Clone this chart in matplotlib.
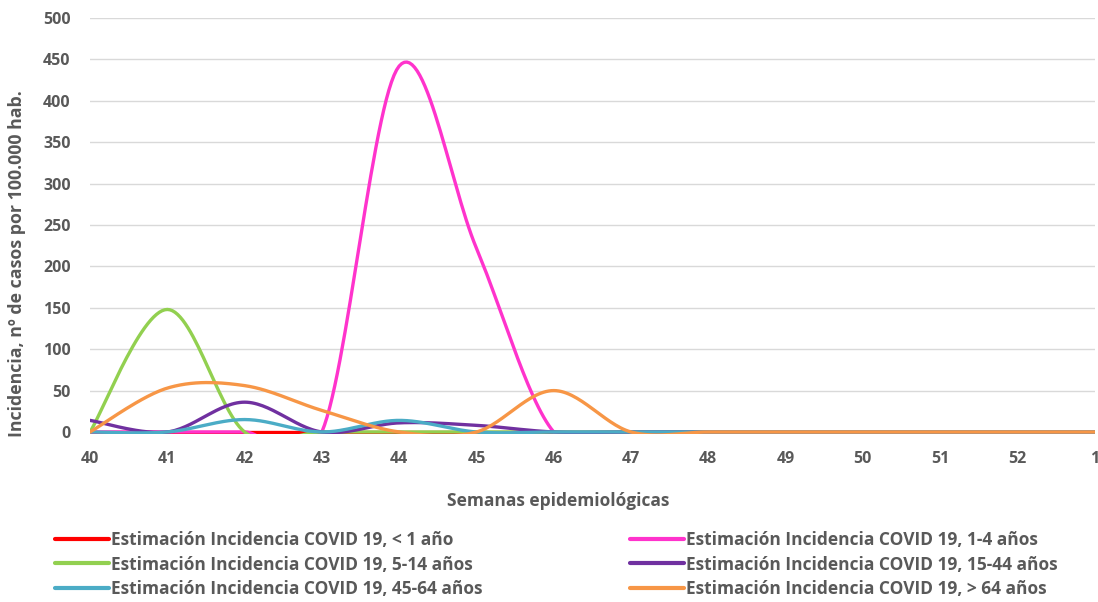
import numpy as np
import matplotlib
matplotlib.use("Agg")
import matplotlib.pyplot as plt

weeks = ["40", "41", "42", "43", "44", "45", "46", "47", "48", "49", "50", "51", "52", "1"]
s_lt1 = [0, 0, 0, 0, 0, 0, 0, 0, 0, 0, 0, 0, 0, 0]
s_1_4 = [0, 0, 0, 0, 442, 222, 0, 0, 0, 0, 0, 0, 0, 0]
s_5_14 = [0, 148, 0, 0, 0, 0, 0, 0, 0, 0, 0, 0, 0, 0]
s_15_44 = [14, 0, 36, 0, 11, 8, 0, 0, 0, 0, 0, 0, 0, 0]
s_45_64 = [0, 0, 15, 0, 14, 0, 0, 0, 0, 0, 0, 0, 0, 0]
s_gt64 = [0, 53, 56, 26, 0, 0, 50, 0, 0, 0, 0, 0, 0, 0]

labels = ["Estimación Incidencia COVID 19, < 1 año",
          "Estimación Incidencia COVID 19, 1-4 años",
          "Estimación Incidencia COVID 19, 5-14 años",
          "Estimación Incidencia COVID 19, 15-44 años",
          "Estimación Incidencia COVID 19, 45-64 años",
          "Estimación Incidencia COVID 19, > 64 años"]
colors = ["#FF0000", "#FF33CC", "#92D050", "#7030A0", "#4BACC6", "#F79646"]
series = [s_lt1, s_1_4, s_5_14, s_15_44, s_45_64, s_gt64]


def smooth(y, n=30):
    y = np.asarray(y, float)
    x = np.arange(len(y), dtype=float)
    P = np.column_stack([x, y])
    out = []
    for i in range(len(P) - 1):
        p0 = P[i - 1] if i > 0 else P[i]
        p1 = P[i]
        p2 = P[i + 1]
        p3 = P[i + 2] if i + 2 < len(P) else P[i + 1]
        c1 = p1 + (p2 - p0) / 6.0
        c2 = p2 - (p3 - p1) / 6.0
        t = np.linspace(0, 1, n, endpoint=(i == len(P) - 2))[:, None]
        b = (1 - t) ** 3 * p1 + 3 * (1 - t) ** 2 * t * c1 + 3 * (1 - t) * t ** 2 * c2 + t ** 3 * p2
        out.append(b)
    out = np.vstack(out)
    return out[:, 0], out[:, 1]


plt.rcParams['font.family'] = ['Open Sans', 'DejaVu Sans']
fig = plt.figure(figsize=(10.98, 6.02), dpi=100)
ax = fig.add_axes([0.082, 0.279, 0.915, 0.691])

handles = []
for s, c, lab in zip(series, colors, labels):
    xs, ys = smooth(s)
    h, = ax.plot(xs, ys, color=c, lw=2.4, label=lab, solid_capstyle='round')
    handles.append(h)

ax.set_xlim(0, len(weeks) - 1)
ax.set_ylim(-2.5, 500)
ax.set_yticks(range(0, 501, 50))
ax.set_xticks(range(len(weeks)))
ax.set_xticklabels(weeks)
ax.grid(axis='y', color='#D9D9D9', lw=1)
ax.set_axisbelow(True)
for sp in ['top', 'right', 'left', 'bottom']:
    ax.spines[sp].set_visible(False)
ax.tick_params(axis='y', length=0, labelsize=11.5, labelcolor='#595959', pad=14)
ax.tick_params(axis='x', length=0, labelsize=11.5, labelcolor='#595959', pad=12)
for t in ax.get_xticklabels() + ax.get_yticklabels():
    t.set_fontweight('bold')
ax.set_xlabel("Semanas epidemiológicas", fontsize=12.5, fontweight='bold', color='#595959')
ax.set_ylabel("Incidencia, nº de casos por 100.000 hab.", fontsize=12.8, fontweight='bold', color='#595959')
ax.xaxis.set_label_coords(0.466, -0.14)
ax.yaxis.set_label_coords(-0.064, 0.41)

left_idx = [0, 2, 4]
right_idx = [1, 3, 5]
for idx, x0 in ((left_idx, 55 / 1098), (right_idx, 630 / 1098)):
    leg = fig.legend([handles[i] for i in idx], [labels[i] for i in idx], loc='upper left',
                     bbox_to_anchor=(x0, 0.118), frameon=False, fontsize=12.5,
                     handlelength=3.1, handletextpad=0.15, labelspacing=0.38,
                     borderpad=0, borderaxespad=0)
    for t in leg.get_texts():
        t.set_color('#595959')
        t.set_fontweight('bold')
    for l in leg.get_lines():
        l.set_linewidth(3)

fig.savefig("out.png", dpi=100)
